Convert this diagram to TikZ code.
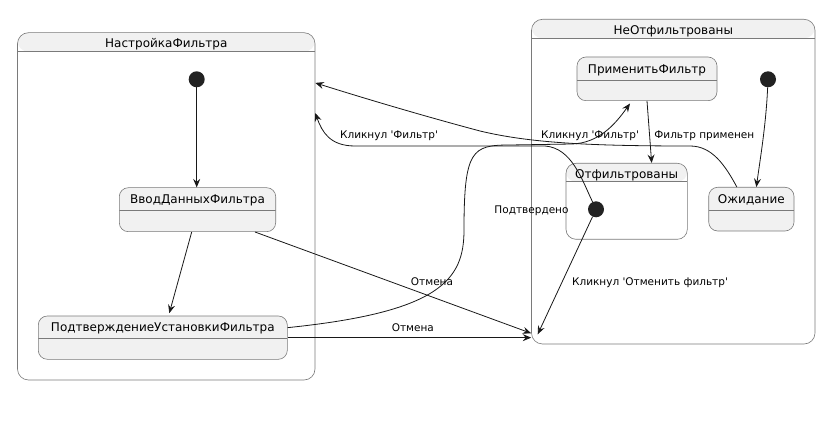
\documentclass[tikz,border=0pt]{standalone}
\usepackage{fontspec}
\setmainfont{DejaVu Sans}[Ligatures=TeXOff]
\usetikzlibrary{arrows.meta,calc}
\definecolor{sfill}{HTML}{F1F1F1}
\definecolor{bord}{HTML}{7A7A7A}
\definecolor{ink}{HTML}{181818}
\definecolor{dotc}{HTML}{222222}
\tikzset{
  stt/.style={draw=bord, line width=0.6pt, rounded corners=9pt, fill=sfill, inner sep=0pt,
    path picture={\draw[bord, line width=0.6pt]
      ([yshift=-#1]path picture bounding box.north west) --
      ([yshift=-#1]path picture bounding box.north east);}},
  comp/.style={draw=bord, line width=0.6pt, rounded corners=11pt, fill=white, inner sep=0pt,
    path picture={\fill[sfill] (path picture bounding box.north west) rectangle
      ([yshift=-#1]path picture bounding box.north east);
      \draw[bord, line width=0.6pt]
      ([yshift=-#1]path picture bounding box.north west) --
      ([yshift=-#1]path picture bounding box.north east);}},
  ttl/.style={anchor=base, inner sep=0pt, font=\fontsize{12}{14}\selectfont, text=black},
  lbl/.style={anchor=base, inner sep=0pt, font=\fontsize{10.5}{12}\selectfont, text=black},
  initc/.style={circle, fill=dotc, draw=none, minimum size=16pt, inner sep=0pt},
  arr/.style={draw=ink, line width=0.8pt, -{Stealth[length=8.5pt,width=7pt,inset=3pt]}}
}
\begin{document}
\begin{tikzpicture}[x=1pt,y=-1pt]
\useasboundingbox (0,0) rectangle (835,430);
% composites
\node[comp=19pt, minimum width=297.5pt, minimum height=347.3pt] (nastr) at (166.25,206.35) {};
\node[comp=19pt, minimum width=283.5pt, minimum height=324.7pt] (neotf) at (673.25,181.65) {};
\node[ttl] (tnastr) at (166.3,48) {НастройкаФильтра};
\node[ttl] (tneotf) at (673.3,35) {НеОтфильтрованы};
% simple states
\node[stt=23pt, minimum width=156.4pt, minimum height=44pt] (vvod) at (197.5,209.7) {};
\node[ttl] (tvvod) at (197.5,203.3) {ВводДанныхФильтра};
\node[stt=22pt, minimum width=249pt, minimum height=43.3pt] (podtv) at (162.8,337.65) {};
\node[ttl] (tpodtv) at (162.8,331.3) {ПодтверждениеУстановкиФильтра};
\node[stt=23.5pt, minimum width=140pt, minimum height=43.7pt] (prim) at (647,78.85) {};
\node[ttl] (tprim) at (647,73.3) {ПрименитьФильтр};
\node[comp=18.4pt, minimum width=121.3pt, minimum height=76pt, rounded corners=10pt] (otf) at (626.65,201.3) {};
\node[ttl] (totf) at (626.65,178.3) {Отфильтрованы};
\node[stt=23.4pt, minimum width=85.3pt, minimum height=43.7pt] (ozh) at (751.35,209.15) {};
\node[ttl] (tozh) at (751.35,203.3) {Ожидание};
% initial / dots
\node[initc] (init1) at (196.7,79.3) {};
\node[initc] (init2) at (768,79.3) {};
\node[initc] (circ3) at (596,209.3) {};
% connectors
\draw[arr] (init1) -- (init1 |- vvod.north);
\draw[arr] ([xshift=-5.8pt]vvod.south) -- ([xshift=6.5pt,yshift=2.5pt]podtv.north);
\draw[arr] ([xshift=57.5pt]vvod.south) -- ([yshift=11pt]neotf.south west);
\draw[arr] (podtv.east) -- (podtv.east -| neotf.west);
\draw[arr] ([yshift=10pt]podtv.east) .. controls (440,312) and (464,280) .. (464,230)
   .. controls (464,150) and (472,145) .. (510,145) -- (572,144)
   .. controls (598,143) and (614,126) .. ([xshift=-17pt,yshift=-2.5pt]prim.south);
\draw[arr] (prim.south) -- ([xshift=25pt]otf.north);
\draw[arr] (init2) .. controls (766,125) and (760,160) .. ([xshift=5pt]ozh.north);
\draw[arr] ([xshift=-14.5pt]ozh.north) .. controls (725,165) and (712,146) .. (690,146)
   .. controls (590,146) and (530,143) .. (480,131)
   .. controls (420,115) and (360,97) .. ([yshift=-50.5pt]nastr.north east);
\draw[arr] (circ3.115) .. controls (582,180) and (572,148) .. (545,146) -- (355,146)
   .. controls (330,146) and (322,132) .. ([yshift=-80.6pt]nastr.north east);
\draw[arr] (circ3.245) -- ([xshift=6.5pt,yshift=10pt]neotf.south west);
% labels
\node[lbl] (l1) at (389,138.5) {Кликнул 'Фильтр'};
\node[lbl] (l2) at (590,138.7) {Кликнул 'Фильтр'};
\node[lbl] (l3) at (704.3,138.7) {Фильтр применен};
\node[lbl] (l4) at (531.5,214) {Подтвердено};
\node[lbl] (l5) at (432,286) {Отмена};
\node[lbl] (l6) at (412.8,331) {Отмена};
\node[lbl] (l7) at (650,286) {Кликнул 'Отменить фильтр'};
\end{tikzpicture}
\end{document}
